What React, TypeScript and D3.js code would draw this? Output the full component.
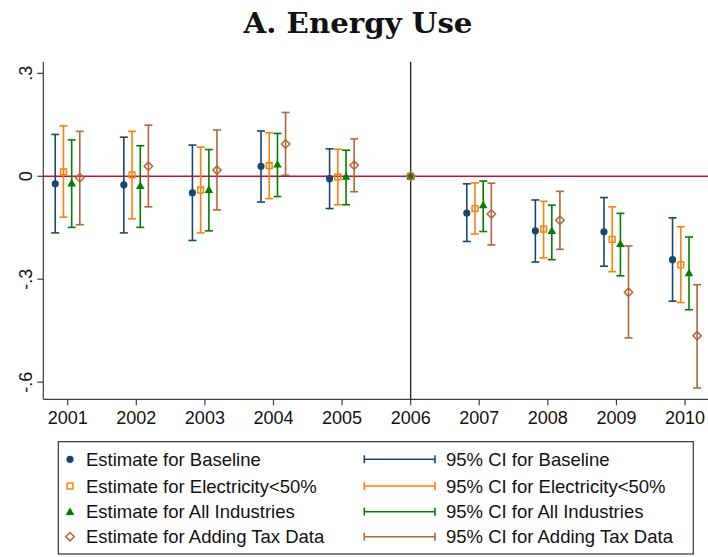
import React from "react";
import * as d3 from "d3";

const years = [2001, 2002, 2003, 2004, 2005, 2006, 2007, 2008, 2009, 2010];
const yTicks = [0.3, 0, -0.3, -0.6];
const yTickLabels = [".3", "0", "-.3", "-.6"];

const baselineEst = [-0.022, -0.025, -0.048, 0.029, -0.007, 0, -0.107, -0.159, -0.162, -0.243];
const baselineLo = [-0.165, -0.165, -0.187, -0.075, -0.094, 0, -0.19, -0.25, -0.262, -0.364];
const baselineHi = [0.122, 0.114, 0.091, 0.132, 0.08, 0, -0.022, -0.069, -0.062, -0.121];

const elecEst = [0.013, 0.004, -0.04, 0.031, -0.002, 0, -0.094, -0.154, -0.184, -0.258];
const elecLo = [-0.119, -0.124, -0.165, -0.065, -0.083, 0, -0.168, -0.238, -0.278, -0.368];
const elecHi = [0.147, 0.131, 0.085, 0.127, 0.079, 0, -0.019, -0.073, -0.089, -0.147];

const allEst = [-0.02, -0.028, -0.039, 0.035, -0.001, 0, -0.084, -0.159, -0.197, -0.282];
const allLo = [-0.149, -0.149, -0.159, -0.059, -0.083, 0, -0.161, -0.243, -0.29, -0.389];
const allHi = [0.106, 0.089, 0.078, 0.125, 0.076, 0, -0.014, -0.084, -0.108, -0.177];

const taxEst = [-0.004, 0.029, 0.018, 0.094, 0.032, 0, -0.11, -0.128, -0.338, -0.465];
const taxLo = [-0.141, -0.089, -0.098, 0.003, -0.045, 0, -0.2, -0.213, -0.471, -0.617];
const taxHi = [0.131, 0.149, 0.135, 0.186, 0.109, 0, -0.02, -0.044, -0.203, -0.316];

const seriesNames = ["Baseline", "Electricity<50%", "All Industries", "Adding Tax Data"];

type Series = {
  name: string;
  est: number[];
  lo: number[];
  hi: number[];
  color: string;
  marker: string;
  offset: number;
};

const series: Series[] = [
  { name: seriesNames[0], est: baselineEst, lo: baselineLo, hi: baselineHi, color: "#1a476f", marker: "circle", offset: -0.182 },
  { name: seriesNames[1], est: elecEst, lo: elecLo, hi: elecHi, color: "#ff7f0e", marker: "square", offset: -0.062 },
  { name: seriesNames[2], est: allEst, lo: allLo, hi: allHi, color: "#008000", marker: "triangle", offset: 0.058 },
  { name: seriesNames[3], est: taxEst, lo: taxLo, hi: taxHi, color: "#b0653a", marker: "diamond", offset: 0.176 },
];

const W = 708;
const H = 557;
const left = 43.3;
const right = 708;
const top = 61.7;
const bottom = 399.3;

const x = d3.scaleLinear().domain([2000.644, 2010.335]).range([left, right]);
const y = d3.scaleLinear().domain([0.334, -0.65]).range([top, bottom]);

const font = "'Liberation Sans', Arial, sans-serif";

function Marker({ type, cx, cy, color }: { type: string; cx: number; cy: number; color: string }) {
  if (type === "circle") return <circle cx={cx} cy={cy} r={3.6} fill={color} />;
  if (type === "square")
    return <rect x={cx - 2.9} y={cy - 2.9} width={5.8} height={5.8} fill="none" stroke={color} strokeWidth={1.5} />;
  if (type === "triangle") {
    const s = 4.3;
    const p = `M${cx},${cy - s} L${cx + s},${cy + s * 0.75} L${cx - s},${cy + s * 0.75} Z`;
    return <path d={p} fill={color} />;
  }
  const s = 4.2;
  const p = `M${cx},${cy - s} L${cx + s},${cy} L${cx},${cy + s} L${cx - s},${cy} Z`;
  return <path d={p} fill="none" stroke={color} strokeWidth={1.5} />;
}

export default function App() {
  const axisColor = "#3c3c3c";
  const cap = 4;
  const legendRows = [459.3, 486, 511.7, 536.7];
  return (
    <div style={{ position: "absolute", left: 0, top: 0 }}>
      <svg width={W} height={H} style={{ display: "block", background: "white" }}>
        <text
          x={358}
          y={33}
          textAnchor="middle"
          fontFamily="'DejaVu Serif', serif"
          fontWeight="bold"
          fontSize={27}
          textLength={229}
          lengthAdjust="spacingAndGlyphs"
          fill="#111"
        >
          A. Energy Use
        </text>

        {/* zero line */}
        <line x1={left} x2={right} y1={y(0)} y2={y(0)} stroke="#c8102e" strokeWidth={1.6} />
        {/* 2006 line */}
        <line x1={x(2006)} x2={x(2006)} y1={top} y2={bottom} stroke="#222" strokeWidth={1.3} />

        {series.map((s) => (
          <g key={s.name}>
            {years.map((yr, i) => {
              const cx = yr === 2006 ? x(yr) : x(yr + s.offset);
              return (
                <g key={yr}>
                  <line x1={cx} x2={cx} y1={y(s.hi[i])} y2={y(s.lo[i])} stroke={s.color} strokeWidth={1.6} />
                  <line x1={cx - cap} x2={cx + cap} y1={y(s.hi[i])} y2={y(s.hi[i])} stroke={s.color} strokeWidth={1.6} />
                  <line x1={cx - cap} x2={cx + cap} y1={y(s.lo[i])} y2={y(s.lo[i])} stroke={s.color} strokeWidth={1.6} />
                </g>
              );
            })}
          </g>
        ))}
        {series.map((s) => (
          <g key={s.name + "m"}>
            {years.map((yr, i) => {
              const cx = yr === 2006 ? x(yr) : x(yr + s.offset);
              return <Marker key={yr} type={s.marker} cx={cx} cy={y(s.est[i])} color={s.color} />;
            })}
          </g>
        ))}

        {/* axes */}
        <line x1={left} x2={left} y1={top} y2={bottom} stroke={axisColor} strokeWidth={1.2} />
        <line x1={left} x2={right} y1={bottom} y2={bottom} stroke={axisColor} strokeWidth={1.2} />
        {yTicks.map((t, i) => (
          <g key={t}>
            <line x1={left - 6} x2={left} y1={y(t)} y2={y(t)} stroke={axisColor} strokeWidth={1.2} />
            <text
              transform={`translate(31.7,${y(t)}) rotate(-90)`}
              textAnchor="middle"
              fontFamily={font}
              fontSize={18}
              fill="#111"
            >
              {yTickLabels[i]}
            </text>
          </g>
        ))}
        {years.map((yr) => (
          <g key={yr}>
            <line x1={x(yr)} x2={x(yr)} y1={bottom} y2={bottom + 6} stroke={axisColor} strokeWidth={1.2} />
            <text x={x(yr)} y={423.5} textAnchor="middle" fontFamily={font} fontSize={18} fill="#111">
              {yr}
            </text>
          </g>
        ))}

        {/* legend */}
        <rect x={58.3} y={441.7} width={635} height={112.3} fill="white" stroke="#333" strokeWidth={1.2} />
        {series.map((s, i) => (
          <g key={s.name + "leg"}>
            <Marker type={s.marker} cx={70} cy={legendRows[i]} color={s.color} />
            <text x={86} y={legendRows[i] + 6.6} fontFamily={font} fontSize={18.5} fill="#111">
              {"Estimate for " + s.name}
            </text>
            <line x1={364.3} x2={435} y1={legendRows[i]} y2={legendRows[i]} stroke={s.color} strokeWidth={1.6} />
            <line x1={364.3} x2={364.3} y1={legendRows[i] - cap} y2={legendRows[i] + cap} stroke={s.color} strokeWidth={1.6} />
            <line x1={435} x2={435} y1={legendRows[i] - cap} y2={legendRows[i] + cap} stroke={s.color} strokeWidth={1.6} />
            <text x={446} y={legendRows[i] + 6.6} fontFamily={font} fontSize={18.5} fill="#111">
              {"95% CI for " + s.name}
            </text>
          </g>
        ))}
      </svg>
    </div>
  );
}
